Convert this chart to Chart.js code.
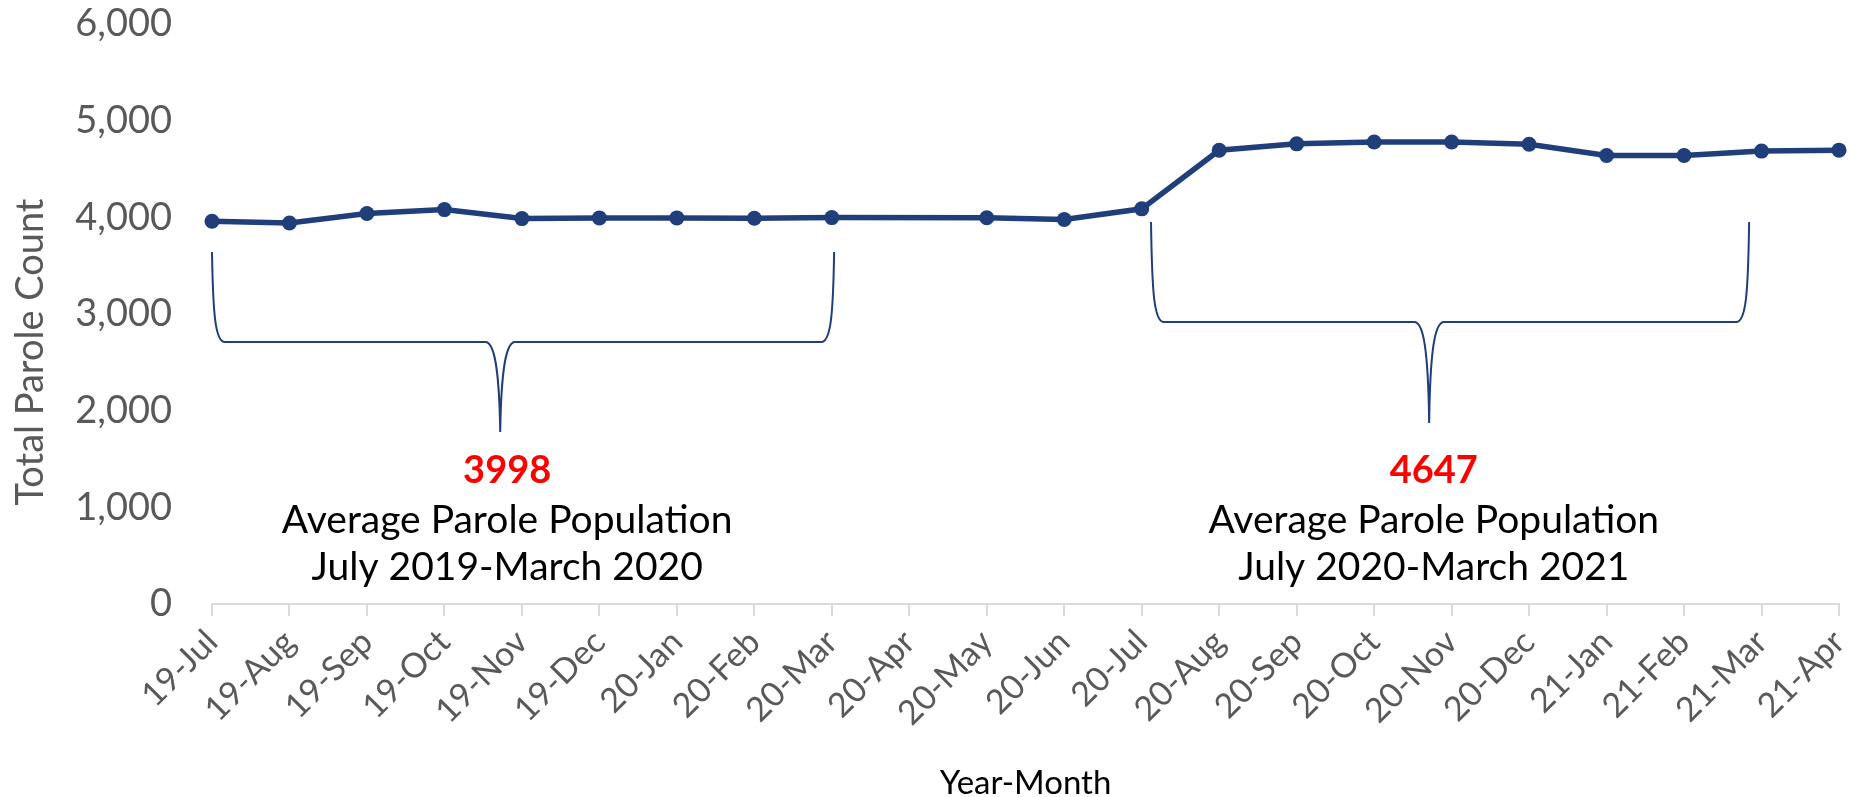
<!DOCTYPE html>
<html>
<head>
<meta charset="utf-8">
<script src="https://cdn.jsdelivr.net/npm/chart.js@4.4.1/dist/chart.umd.min.js"></script>
<style>
    html, body { margin: 0; padding: 0; background: #fff; }
    #wrap { width: 1858px; height: 797px; }
</style>
</head>
<body>
<div id="wrap"><canvas id="paroleChart" width="1858" height="797"></canvas></div>
<script>
// months shown on the x axis
var months = ['19-Jul', '19-Aug', '19-Sep', '19-Oct', '19-Nov', '19-Dec',
    '20-Jan', '20-Feb', '20-Mar', '20-Apr', '20-May', '20-Jun',
    '20-Jul', '20-Aug', '20-Sep', '20-Oct', '20-Nov', '20-Dec',
    '21-Jan', '21-Feb', '21-Mar', '21-Apr'];

// total parole count by month (no marker for 20-Apr in the source)
var paroleCount = [3960, 3942, 4040, 4080, 3987, 3994,
    3994, 3991, 3997, null, 3995, 3978,
    4088, 4694, 4760, 4780, 4780, 4756,
    4640, 4640, 4685, 4695];

var yTicks = [0, 1000, 2000, 3000, 4000, 5000, 6000];

// bracket callouts
var averages = ['3998', '4647'];
var averageTitle = ['Average Parole Population', 'Average Parole Population'];
var averagePeriod = ['July 2019-March 2020', 'July 2020-March 2021'];

var navy = '#203e79';
var grey = '#595959';
var fontName = 'Lato, "Open Sans", sans-serif';

var bracketPlugin = {
    id: 'brackets',
    afterDraw: function(chart, args, opts) {
        var ctx = chart.ctx;
        var xs = chart.scales.x;
        var ys = chart.scales.y;

        opts.items.forEach(function(b, i) {
            var x0 = xs.getPixelForValue(b.from);
            var x1 = xs.getPixelForValue(b.to);
            var xm = xs.getPixelForValue(b.mid);
            var yTop = ys.getPixelForValue(b.top);
            var yBar = ys.getPixelForValue(b.bar);
            var yTip = ys.getPixelForValue(b.tip);

            ctx.save();
            ctx.strokeStyle = navy;
            ctx.lineWidth = 2;
            ctx.beginPath();
            ctx.moveTo(x0, yTop);
            ctx.bezierCurveTo(x0 + 1, yBar - 30, x0 + 3, yBar, x0 + 13, yBar);
            ctx.lineTo(xm - 14, yBar);
            ctx.bezierCurveTo(xm - 6, yBar + 2, xm - 1, yBar + 25, xm, yTip);
            ctx.bezierCurveTo(xm + 1, yBar + 25, xm + 6, yBar + 2, xm + 14, yBar);
            ctx.lineTo(x1 - 13, yBar);
            ctx.bezierCurveTo(x1 - 3, yBar, x1 - 1, yBar - 30, x1, yTop);
            ctx.stroke();

            // text under the bracket
            var xt = xs.getPixelForValue(b.textAt);
            ctx.textAlign = 'center';
            ctx.textBaseline = 'alphabetic';
            ctx.fillStyle = '#ff0000';
            ctx.font = 'bold 38px ' + fontName;
            ctx.fillText(averages[i], xt, ys.getPixelForValue(opts.lines[0]));
            ctx.fillStyle = '#000000';
            ctx.font = '39px ' + fontName;
            ctx.fillText(averageTitle[i], xt, ys.getPixelForValue(opts.lines[1]));
            ctx.fillText(averagePeriod[i], xt, ys.getPixelForValue(opts.lines[2]));
            ctx.restore();
        });

        // y axis title, sits a bit lower than the axis middle
        ctx.save();
        ctx.translate(opts.yTitle.x, opts.yTitle.y);
        ctx.rotate(-Math.PI / 2);
        ctx.textAlign = 'center';
        ctx.textBaseline = 'middle';
        ctx.fillStyle = grey;
        ctx.font = '38px ' + fontName;
        ctx.fillText('Total Parole Count', 0, 0);
        ctx.restore();
    }
};

new Chart(document.getElementById('paroleChart'), {
    type: 'line',
    data: {
        labels: months,
        datasets: [{
            label: 'Total Parole Count',
            data: paroleCount,
            borderColor: navy,
            backgroundColor: navy,
            borderWidth: 5.5,
            pointRadius: 7.5,
            pointBackgroundColor: navy,
            pointBorderColor: navy,
            pointBorderWidth: 0,
            spanGaps: true,
            tension: 0,
            clip: false
        }]
    },
    options: {
        responsive: false,
        animation: false,
        devicePixelRatio: 1,
        layout: {
            padding: { top: 24, right: 19, left: 0, bottom: 0 }
        },
        plugins: {
            legend: { display: false },
            tooltip: { enabled: false },
            brackets: {
                items: [
                    { from: 0, to: 8.03, mid: 3.72, textAt: 3.81, top: 3641, bar: 2710, tip: 1779 },
                    { from: 12.12, to: 19.84, mid: 15.71, textAt: 15.77, top: 3952, bar: 2917, tip: 1872 }
                ],
                lines: [1252, 734, 248],
                yTitle: { x: 31, y: 352 }
            }
        },
        scales: {
            x: {
                grid: {
                    display: true,
                    drawOnChartArea: false,
                    drawTicks: true,
                    tickLength: 12,
                    color: '#d9d9d9',
                    lineWidth: 2
                },
                border: { display: true, color: '#d9d9d9', width: 2 },
                ticks: {
                    autoSkip: false,
                    maxRotation: 45,
                    minRotation: 45,
                    padding: 6,
                    color: grey,
                    font: { family: fontName, size: 34 }
                },
                title: {
                    display: true,
                    text: 'Year-Month',
                    color: '#000000',
                    padding: { top: -6, bottom: -6 },
                    font: { family: fontName, size: 33 }
                },
                afterFit: function(scale) {
                    scale.height = 193;
                    scale.paddingLeft = 0;
                    scale.paddingRight = 0;
                }
            },
            y: {
                min: 0,
                max: 6000,
                afterBuildTicks: function(scale) {
                    scale.ticks = yTicks.map(function(v) { return { value: v }; });
                },
                grid: { display: false, drawTicks: false },
                border: { display: false },
                ticks: {
                    padding: 40,
                    color: grey,
                    font: { family: fontName, size: 38 },
                    callback: function(v) { return v.toLocaleString('en-US'); }
                },
                afterFit: function(scale) {
                    scale.width = 212;
                    scale.paddingTop = 0;
                    scale.paddingBottom = 0;
                }
            }
        }
    },
    plugins: [bracketPlugin]
});
</script>
</body>
</html>
